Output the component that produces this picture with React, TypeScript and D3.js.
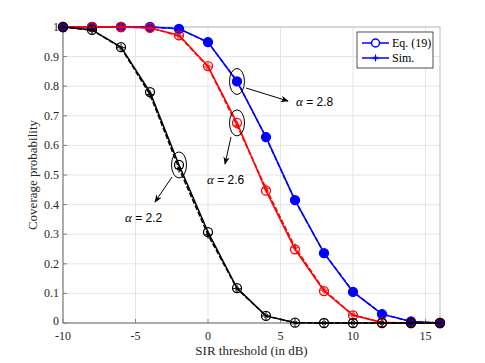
import React from 'react';
import * as d3 from 'd3';

// SIR thresholds (dB)
const thresholds = [-10, -8, -6, -4, -2, 0, 2, 4, 6, 8, 10, 12, 14, 16];

// analytic curves, Eq. (19)
const eqAlpha28 = [1, 1, 1, 1, 0.994, 0.949, 0.816, 0.628, 0.415, 0.236, 0.105, 0.03, 0.005, 0];
const eqAlpha26 = [1, 1, 1, 0.997, 0.972, 0.868, 0.676, 0.447, 0.249, 0.108, 0.026, 0.002, 0, 0];
const eqAlpha22 = [1, 0.99, 0.932, 0.78, 0.534, 0.307, 0.118, 0.024, 0.001, 0, 0, 0, 0, 0];

// simulation curves
const simAlpha28 = [1, 1, 1, 1, 0.994, 0.948, 0.818, 0.627, 0.414, 0.237, 0.106, 0.03, 0.005, 0];
const simAlpha26 = [1, 1, 1, 0.997, 0.97, 0.865, 0.668, 0.455, 0.256, 0.111, 0.027, 0.002, 0, 0];
const simAlpha22 = [1, 0.99, 0.93, 0.772, 0.522, 0.298, 0.116, 0.024, 0.001, 0, 0, 0, 0, 0];

const xTicks = [-10, -5, 0, 5, 10, 15];
const yTicks = [0, 0.1, 0.2, 0.3, 0.4, 0.5, 0.6, 0.7, 0.8, 0.9, 1];

const series = [
  { color: '#0000ff', eq: eqAlpha28, sim: simAlpha28, filled: true },
  { color: '#ff0000', eq: eqAlpha26, sim: simAlpha26, filled: false },
  { color: '#000000', eq: eqAlpha22, sim: simAlpha22, filled: false },
];

const W = 485;
const H = 363;
const margin = { left: 63, right: 45, top: 27, bottom: 40 };

function Asterisk({ x, y, r, color }: { x: number; y: number; r: number; color: string }) {
  const d = r * 0.45;
  return (
    <g stroke={color} strokeWidth={1}>
      <line x1={x - r} y1={y} x2={x + r} y2={y} />
      <line x1={x} y1={y - r} x2={x} y2={y + r} />
      <line x1={x - d} y1={y - d} x2={x + d} y2={y + d} />
      <line x1={x - d} y1={y + d} x2={x + d} y2={y - d} />
    </g>
  );
}

export default function App() {
  const x = d3.scaleLinear().domain([-10, 16]).range([margin.left, W - margin.right]);
  const y = d3.scaleLinear().domain([0, 1]).range([H - margin.bottom, margin.top]);
  const line = d3.line<number>().x((_, i) => x(thresholds[i])).y((v) => y(v));

  const x0 = x.range()[0];
  const x1 = x.range()[1];
  const y0 = y.range()[0];
  const y1 = y.range()[1];
  const font = '"Liberation Serif", "Times New Roman", serif';
  const axisColor = '#262626';

  const annotations = [
    { cx: x(2), cy: y(0.816), ax1: 246, ay1: 88, ax2: 288, ay2: 101, tx: 296, ty: 106, label: '2.8' },
    { cx: x(2), cy: y(0.676), ax1: 231, ay1: 137, ax2: 225, ay2: 164, tx: 207, ty: 184, label: '2.6' },
    { cx: x(-2), cy: y(0.534), ax1: 172, ay1: 177, ax2: 155, ay2: 202, tx: 125, ty: 222, label: '2.2' },
  ];

  return (
    <svg width={W} height={H} style={{ position: 'absolute', left: 0, top: 0, background: '#fff' }}>
      <defs>
        <marker id="arr" viewBox="0 0 10 10" refX="9" refY="5" markerWidth="8" markerHeight="8" orient="auto-start-reverse">
          <path d="M0,1 L10,5 L0,9 L3,5 Z" fill="#000" />
        </marker>
      </defs>
      {/* grid */}
      <g stroke="#e5e5e5" strokeWidth={1}>
        {xTicks.map((t) => (
          <line key={'gx' + t} x1={x(t)} x2={x(t)} y1={y1} y2={y0} />
        ))}
        {yTicks.map((t) => (
          <line key={'gy' + t} x1={x0} x2={x1} y1={y(t)} y2={y(t)} />
        ))}
      </g>
      {/* box */}
      <rect x={x0} y={y1} width={x1 - x0} height={y0 - y1} fill="none" stroke="#bdbdbd" strokeWidth={1} />
      <line x1={x0} x2={x1} y1={y0} y2={y0} stroke="#808080" />
      <line x1={x0} x2={x0} y1={y0} y2={y1} stroke="#808080" />
      {/* ticks */}
      <g stroke="#808080">
        {xTicks.map((t) => (
          <line key={'tx' + t} x1={x(t)} x2={x(t)} y1={y0} y2={y0 - 4} />
        ))}
        {yTicks.map((t) => (
          <line key={'ty' + t} x1={x0} x2={x0 + 4} y1={y(t)} y2={y(t)} />
        ))}
      </g>
      <g fontFamily={font} fontSize={12} fill={axisColor}>
        {xTicks.map((t) => (
          <text key={'lx' + t} x={x(t)} y={y0 + 17} textAnchor="middle">{t}</text>
        ))}
        {yTicks.map((t) => (
          <text key={'ly' + t} x={x0 - 4} y={y(t) + (t === 0 ? 2 : 4)} textAnchor="end">{t}</text>
        ))}
        <text x={(x0 + x1) / 2} y={H - 8} textAnchor="middle" fontSize={13}>SIR threshold (in dB)</text>
        <text transform={`translate(37,${(y0 + y1) / 2}) rotate(-90)`} textAnchor="middle" fontSize={13}>Coverage probability</text>
      </g>
      {/* curves */}
      {series.map((s, k) => (
        <g key={'s' + k}>
          <path d={line(s.sim) || ''} fill="none" stroke={s.color} strokeWidth={1.5} strokeDasharray="5,2" />
          <path d={line(s.eq) || ''} fill="none" stroke={s.color} strokeWidth={1.5} />
          {s.eq.map((v, i) => (
            <circle key={'c' + i} cx={x(thresholds[i])} cy={y(v)} r={4.5}
              fill={s.filled ? s.color : 'none'} stroke={s.color} strokeWidth={1.3} />
          ))}
          {s.sim.map((v, i) => (
            <Asterisk key={'a' + i} x={x(thresholds[i])} y={y(v)} r={4} color={s.color} />
          ))}
        </g>
      ))}
      {/* annotations */}
      {annotations.map((a, k) => (
        <g key={'an' + k}>
          <ellipse cx={a.cx} cy={a.cy} rx={7.5} ry={13} fill="none" stroke="#000" strokeWidth={1} />
          <line x1={a.ax1} y1={a.ay1} x2={a.ax2} y2={a.ay2} stroke="#000" strokeWidth={1} markerEnd="url(#arr)" />
          <text x={a.tx} y={a.ty} fontSize={12} fontFamily='"Liberation Sans", Arial, sans-serif' fill="#000">
            <tspan fontFamily={font} fontStyle="italic" fontSize={13}>α</tspan> = {a.label}
          </text>
        </g>
      ))}
      {/* legend */}
      <g>
        <rect x={357} y={32} width={76} height={36} fill="#fff" stroke="#262626" strokeWidth={0.8} />
        <line x1={362} x2={389} y1={43} y2={43} stroke="#0000ff" strokeWidth={1.5} />
        <circle cx={375.5} cy={43} r={4} fill="#fff" stroke="#0000ff" strokeWidth={1.5} />
        <text x={392} y={47} fontFamily={font} fontSize={12} fill="#000">Eq. (19)</text>
        <line x1={362} x2={389} y1={58} y2={58} stroke="#0000ff" strokeWidth={1.5} />
        <Asterisk x={375.5} y={58} r={3.5} color="#0000ff" />
        <text x={392} y={62} fontFamily={font} fontSize={12} fill="#000">Sim.</text>
      </g>
    </svg>
  );
}
